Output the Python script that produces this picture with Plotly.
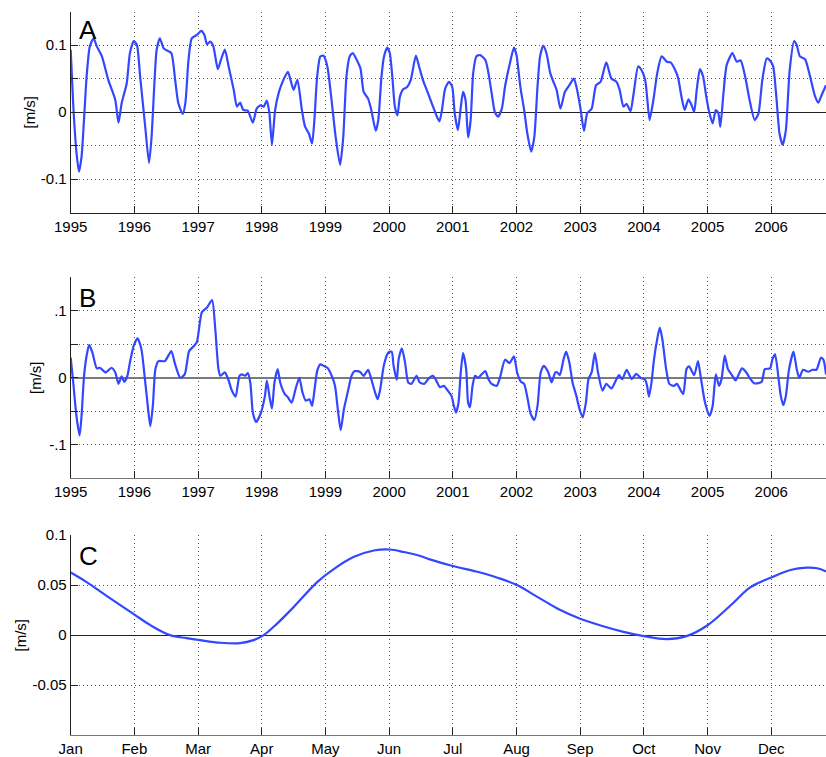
import plotly.graph_objects as go

# ---------------- Panel A: velocity anomaly time series ----------------
a_year = [1995.00, 1995.04, 1995.09, 1995.13, 1995.17, 1995.21, 1995.25, 1995.30, 1995.36, 1995.41,
          1995.49, 1995.59, 1995.70, 1995.75, 1995.80, 1995.88, 1995.93, 1995.99, 1996.04, 1996.09,
          1996.17, 1996.23, 1996.27, 1996.32, 1996.35, 1996.40, 1996.46, 1996.51, 1996.58, 1996.64,
          1996.69, 1996.76, 1996.80, 1996.85, 1996.90, 1996.98, 1997.05, 1997.10, 1997.14, 1997.19,
          1997.24, 1997.31, 1997.36, 1997.42, 1997.48, 1997.56, 1997.61, 1997.66, 1997.71, 1997.78,
          1997.86, 1997.92, 1997.98, 1998.03, 1998.08, 1998.12, 1998.16, 1998.21, 1998.27, 1998.34,
          1998.41, 1998.46, 1998.50, 1998.56, 1998.63, 1998.68, 1998.74, 1998.79, 1998.83, 1998.87,
          1998.92, 1998.97, 1999.03, 1999.09, 1999.16, 1999.23, 1999.28, 1999.33, 1999.38, 1999.43,
          1999.49, 1999.55, 1999.60, 1999.67, 1999.72, 1999.79, 1999.83, 1999.88, 1999.92, 1999.97,
          2000.01, 2000.05, 2000.09, 2000.13, 2000.17, 2000.22, 2000.28, 2000.34, 2000.42, 2000.47,
          2000.53, 2000.59, 2000.67, 2000.75, 2000.79, 2000.83, 2000.88, 2000.94, 2000.99, 2001.03,
          2001.08, 2001.12, 2001.16, 2001.20, 2001.24, 2001.28, 2001.32, 2001.37, 2001.43, 2001.51,
          2001.56, 2001.61, 2001.66, 2001.71, 2001.77, 2001.82, 2001.89, 2001.96, 2002.00, 2002.06,
          2002.12, 2002.17, 2002.23, 2002.28, 2002.33, 2002.37, 2002.42, 2002.47, 2002.53, 2002.58,
          2002.63, 2002.69, 2002.76, 2002.83, 2002.90, 2002.94, 2003.00, 2003.06, 2003.11, 2003.18,
          2003.25, 2003.32, 2003.41, 2003.49, 2003.57, 2003.62, 2003.68, 2003.73, 2003.79, 2003.84,
          2003.91, 2003.96, 2004.02, 2004.05, 2004.09, 2004.15, 2004.21, 2004.28, 2004.36, 2004.42,
          2004.49, 2004.54, 2004.59, 2004.64, 2004.70, 2004.75, 2004.79, 2004.83, 2004.88, 2004.93,
          2004.98, 2005.03, 2005.08, 2005.13, 2005.17, 2005.20, 2005.25, 2005.30, 2005.39, 2005.46,
          2005.52, 2005.59, 2005.66, 2005.74, 2005.80, 2005.86, 2005.93, 2005.98, 2006.03, 2006.08,
          2006.13, 2006.18, 2006.23, 2006.29, 2006.36, 2006.40, 2006.45, 2006.53, 2006.61, 2006.69,
          2006.74, 2006.79, 2006.86]
a_vel = [0.093, 0.010, -0.060, -0.089, -0.067, -0.010, 0.053, 0.098, 0.110, 0.098,
         0.083, 0.048, 0.018, -0.016, 0.013, 0.043, 0.088, 0.106, 0.100, 0.053,
         -0.022, -0.076, -0.037, 0.053, 0.093, 0.110, 0.095, 0.092, 0.088, 0.048,
         0.013, -0.003, 0.013, 0.078, 0.110, 0.115, 0.121, 0.115, 0.101, 0.105,
         0.098, 0.064, 0.078, 0.093, 0.068, 0.033, 0.008, 0.014, 0.003, 0.002,
         -0.016, 0.005, 0.010, 0.008, 0.017, -0.002, -0.049, 0.003, 0.030, 0.048,
         0.060, 0.045, 0.033, 0.048, 0.003, -0.022, -0.032, -0.047, -0.007, 0.053,
         0.083, 0.084, 0.068, 0.023, -0.037, -0.079, -0.037, 0.053, 0.083, 0.088,
         0.078, 0.065, 0.030, 0.020, 0.003, -0.028, -0.012, 0.053, 0.083, 0.096,
         0.088, 0.053, 0.008, -0.005, 0.023, 0.034, 0.037, 0.048, 0.084, 0.068,
         0.048, 0.033, 0.013, -0.007, -0.014, 0.003, 0.035, 0.045, 0.038, -0.002,
         -0.027, 0.003, 0.030, 0.018, -0.038, -0.012, 0.058, 0.083, 0.085, 0.078,
         0.058, 0.028, 0.000, -0.007, 0.005, 0.038, 0.070, 0.096, 0.085, 0.038,
         0.003, -0.032, -0.059, -0.037, 0.038, 0.083, 0.099, 0.088, 0.058, 0.045,
         0.033, 0.005, 0.030, 0.040, 0.050, 0.038, 0.008, -0.028, -0.002, 0.005,
         0.040, 0.045, 0.074, 0.050, 0.045, 0.033, 0.008, 0.012, 0.001, 0.028,
         0.068, 0.063, 0.048, 0.023, -0.012, 0.018, 0.058, 0.083, 0.075, 0.074,
         0.063, 0.050, 0.023, 0.003, 0.019, 0.010, 0.000, 0.033, 0.064, 0.053,
         0.023, -0.002, -0.017, 0.003, -0.002, -0.022, 0.028, 0.070, 0.088, 0.075,
         0.077, 0.053, 0.018, -0.012, -0.002, 0.048, 0.080, 0.077, 0.068, 0.023,
         -0.032, -0.049, -0.027, 0.063, 0.106, 0.100, 0.083, 0.079, 0.053, 0.023,
         0.014, 0.025, 0.040]

# ---------------- Panel B: residual anomaly time series ----------------
b_year = [1995.00, 1995.04, 1995.09, 1995.14, 1995.17, 1995.21, 1995.25, 1995.29, 1995.34, 1995.41,
          1995.46, 1995.55, 1995.64, 1995.70, 1995.75, 1995.80, 1995.84, 1995.89, 1995.93, 1995.99,
          1996.05, 1996.11, 1996.16, 1996.21, 1996.25, 1996.29, 1996.33, 1996.38, 1996.48, 1996.58,
          1996.64, 1996.72, 1996.79, 1996.86, 1996.93, 1996.98, 1997.06, 1997.14, 1997.22, 1997.27,
          1997.32, 1997.35, 1997.42, 1997.48, 1997.53, 1997.59, 1997.65, 1997.69, 1997.74, 1997.78,
          1997.82, 1997.86, 1997.91, 1997.98, 1998.05, 1998.08, 1998.12, 1998.16, 1998.20, 1998.25,
          1998.29, 1998.36, 1998.41, 1998.47, 1998.53, 1998.59, 1998.64, 1998.69, 1998.75, 1998.79,
          1998.83, 1998.87, 1998.92, 1998.97, 1999.03, 1999.09, 1999.15, 1999.20, 1999.24, 1999.29,
          1999.36, 1999.41, 1999.46, 1999.54, 1999.60, 1999.67, 1999.72, 1999.78, 1999.82, 1999.86,
          1999.92, 1999.99, 2000.04, 2000.07, 2000.12, 2000.15, 2000.20, 2000.25, 2000.30, 2000.35,
          2000.43, 2000.48, 2000.55, 2000.63, 2000.69, 2000.75, 2000.80, 2000.86, 2000.92, 2000.98,
          2001.01, 2001.05, 2001.09, 2001.12, 2001.16, 2001.21, 2001.24, 2001.27, 2001.31, 2001.35,
          2001.40, 2001.45, 2001.51, 2001.56, 2001.61, 2001.69, 2001.74, 2001.82, 2001.89, 2001.96,
          2002.01, 2002.07, 2002.12, 2002.17, 2002.22, 2002.28, 2002.33, 2002.38, 2002.43, 2002.50,
          2002.55, 2002.61, 2002.64, 2002.68, 2002.74, 2002.78, 2002.83, 2002.88, 2002.94, 2002.99,
          2003.04, 2003.09, 2003.13, 2003.18, 2003.23, 2003.28, 2003.35, 2003.41, 2003.49, 2003.57,
          2003.61, 2003.66, 2003.73, 2003.81, 2003.88, 2003.95, 2004.02, 2004.05, 2004.08, 2004.12,
          2004.16, 2004.21, 2004.25, 2004.29, 2004.35, 2004.40, 2004.47, 2004.52, 2004.58, 2004.62,
          2004.67, 2004.71, 2004.79, 2004.85, 2004.89, 2004.96, 2005.03, 2005.08, 2005.13, 2005.18,
          2005.22, 2005.27, 2005.32, 2005.39, 2005.44, 2005.48, 2005.54, 2005.61, 2005.66, 2005.73,
          2005.80, 2005.85, 2005.90, 2005.98, 2006.02, 2006.06, 2006.11, 2006.15, 2006.19, 2006.23,
          2006.28, 2006.35, 2006.40, 2006.44, 2006.50, 2006.58, 2006.65, 2006.71, 2006.78, 2006.82,
          2006.86]
b_vel = [0.030, -0.007, -0.057, -0.086, -0.057, 0.003, 0.033, 0.049, 0.038, 0.014,
         0.015, 0.008, 0.015, 0.008, -0.009, 0.002, -0.006, 0.003, 0.023, 0.048,
         0.059, 0.043, 0.003, -0.042, -0.072, -0.042, 0.013, 0.025, 0.025, 0.040,
         0.020, 0.000, 0.005, 0.040, 0.047, 0.053, 0.098, 0.105, 0.116, 0.073,
         0.013, 0.003, 0.008, -0.004, -0.019, -0.028, 0.003, 0.005, 0.003, 0.007,
         -0.007, -0.052, -0.066, -0.054, -0.027, -0.004, -0.027, -0.046, -0.007, 0.013,
         -0.007, -0.024, -0.029, -0.037, -0.017, -0.000, -0.022, -0.034, -0.032, -0.042,
         -0.017, 0.010, 0.020, 0.018, 0.015, 0.005, -0.012, -0.052, -0.078, -0.047,
         -0.017, 0.003, 0.010, 0.009, 0.003, 0.012, -0.002, -0.022, -0.032, -0.017,
         0.020, 0.038, 0.039, 0.018, -0.003, 0.028, 0.044, 0.023, -0.007, -0.009,
         0.003, -0.007, -0.009, 0.000, 0.003, -0.006, -0.014, -0.012, -0.019, -0.027,
         -0.039, -0.052, -0.037, 0.003, 0.037, 0.013, -0.037, -0.044, -0.012, 0.003,
         0.000, 0.005, 0.010, -0.002, -0.009, -0.012, 0.000, 0.027, 0.022, 0.032,
         0.008, -0.006, -0.009, -0.029, -0.053, -0.063, -0.042, 0.008, 0.018, 0.008,
         -0.007, 0.008, 0.008, 0.004, 0.028, 0.039, 0.023, -0.007, -0.027, -0.047,
         -0.059, -0.037, -0.002, 0.008, 0.037, 0.008, -0.019, -0.009, -0.016, -0.002,
         0.004, -0.002, 0.012, -0.002, 0.006, 0.000, -0.003, -0.012, -0.028, -0.007,
         0.028, 0.058, 0.075, 0.058, 0.013, -0.009, -0.012, -0.009, -0.019, -0.024,
         0.013, 0.017, 0.004, 0.025, 0.003, -0.037, -0.057, -0.042, 0.005, -0.012,
         -0.002, 0.033, 0.013, 0.003, -0.004, 0.003, 0.014, 0.008, 0.000, -0.008,
         -0.008, -0.006, 0.013, 0.014, 0.028, 0.035, 0.003, -0.027, -0.041, -0.027,
         0.013, 0.039, 0.013, 0.000, 0.012, 0.009, 0.012, 0.012, 0.030, 0.027,
         0.005]

# ---------------- Panel C: mean seasonal cycle ----------------
c_month = [0.00, 0.25, 0.57, 0.99, 1.25, 1.56, 1.82, 2.03, 2.35, 2.66, 2.87, 3.03, 3.24, 3.50,
           3.87, 4.13, 4.44, 4.76, 5.01, 5.23, 5.49, 5.64, 6.00, 6.37, 6.69, 7.00, 7.32, 7.68,
           8.00, 8.36, 8.68, 9.00, 9.36, 9.67, 10.00, 10.36, 10.67, 11.00, 11.30, 11.56, 11.72,
           11.86]
c_vel = [0.0625, 0.053, 0.039, 0.021, 0.010, 0.000, -0.003, -0.005, -0.0076, -0.008, -0.005,
         0.000, 0.0115, 0.028, 0.053, 0.066, 0.078, 0.0845, 0.0855, 0.083, 0.079, 0.0757,
         0.069, 0.0635, 0.0576, 0.0503, 0.0385, 0.0253, 0.0164, 0.0089, 0.0033, -0.001,
         -0.004, -0.001, 0.0099, 0.0296, 0.0477, 0.0576, 0.065, 0.0674, 0.0668, 0.0635]

year_ticks = list(range(1995, 2007))
month_labels = ["Jan", "Feb", "Mar", "Apr", "May", "Jun",
                "Jul", "Aug", "Sep", "Oct", "Nov", "Dec"]

yA_vals = [-0.15, -0.10, -0.05, 0.0, 0.05, 0.10, 0.15]
yA_text = ["", "-0.1", "", "0", "", "0.1", ""]
yB_text = ["", "-.1", "", "0", "", ".1", ""]
yC_vals = [-0.10, -0.05, 0.0, 0.05, 0.10]
yC_text = ["", "-0.05", "0", "0.05", "0.1"]

W, H = 826, 757
FONT = "Liberation Sans, Arial, Helvetica, sans-serif"
FS = 15
LINE = "#3347ff"
GRID = "#555555"
x0 = 70.7 / W


def ydom(top_px, bottom_px):
    return [1 - bottom_px / H, 1 - top_px / H]


fig = go.Figure()
fig.add_trace(go.Scatter(x=a_year, y=a_vel, mode="lines", xaxis="x", yaxis="y",
                         line=dict(color=LINE, width=2.2, shape="spline", smoothing=0.6),
                         showlegend=False))
fig.add_trace(go.Scatter(x=b_year, y=b_vel, mode="lines", xaxis="x2", yaxis="y2",
                         line=dict(color=LINE, width=2.2, shape="spline", smoothing=0.6),
                         showlegend=False))
fig.add_trace(go.Scatter(x=c_month, y=c_vel, mode="lines", xaxis="x3", yaxis="y3",
                         line=dict(color=LINE, width=2.2, shape="spline", smoothing=1.0),
                         showlegend=False))

common_x = dict(showline=True, linecolor="#222", linewidth=1, ticks="inside", ticklen=7,
                tickcolor="#222", showgrid=True, gridcolor=GRID, gridwidth=1,
                griddash="1px,3px", zeroline=False, automargin=False,
                tickfont=dict(family=FONT, size=FS, color="black"))
common_y = dict(showline=True, linecolor="#222", linewidth=1, ticks="inside", ticklen=7,
                tickcolor="#222", showgrid=True, gridcolor=GRID, gridwidth=1,
                griddash="1px,3px", automargin=False,
                tickfont=dict(family=FONT, size=FS, color="black"))

fig.update_layout(
    width=W, height=H,
    margin=dict(l=0, r=0, t=0, b=0),
    paper_bgcolor="white", plot_bgcolor="white",
    template="none",
    font=dict(family=FONT, size=FS, color="black"),
    xaxis=dict(common_x, domain=[x0, 1], range=[1995, 2006.86], anchor="y",
               tickmode="array", tickvals=year_ticks, ticktext=[str(y) for y in year_ticks]),
    yaxis=dict(common_y, domain=ydom(11.5, 212.5), range=[-0.15, 0.15], anchor="x",
               tickmode="array", tickvals=yA_vals, ticktext=yA_text,
               zeroline=True, zerolinecolor="#222", zerolinewidth=1.2),
    xaxis2=dict(common_x, domain=[x0, 1], range=[1995, 2006.86], anchor="y2",
                tickmode="array", tickvals=year_ticks, ticktext=[str(y) for y in year_ticks],
                linecolor="#777"),
    yaxis2=dict(common_y, domain=ydom(277.3, 478.3), range=[-0.15, 0.15], anchor="x2",
                tickmode="array", tickvals=yA_vals, ticktext=yB_text,
                zeroline=True, zerolinecolor="#7a7a7a", zerolinewidth=2.2),
    xaxis3=dict(common_x, domain=[x0, 1], range=[0, 11.86], anchor="y3",
                tickmode="array", tickvals=list(range(12)), ticktext=month_labels,
                linecolor="#777"),
    yaxis3=dict(common_y, domain=ydom(535, 735.3), range=[-0.1, 0.1], anchor="x3",
                tickmode="array", tickvals=yC_vals, ticktext=yC_text,
                zeroline=True, zerolinecolor="#222", zerolinewidth=1.2),
)

# panel letters
for letter, ytop in (("A", 13), ("B", 281), ("C", 539)):
    fig.add_annotation(text=letter, xref="paper", yref="paper", x=77 / W, y=1 - ytop / H,
                       xanchor="left", yanchor="top", showarrow=False,
                       font=dict(family=FONT, size=26, color="black"))

# y-axis titles
for xc, yc in ((28.5, 112), (36, 378), (19.5, 635)):
    fig.add_annotation(text="[m/s]", xref="paper", yref="paper", x=xc / W, y=1 - yc / H,
                       xanchor="center", yanchor="middle", textangle=-90, showarrow=False,
                       font=dict(family=FONT, size=FS, color="black"))

fig.write_html("out.html")
